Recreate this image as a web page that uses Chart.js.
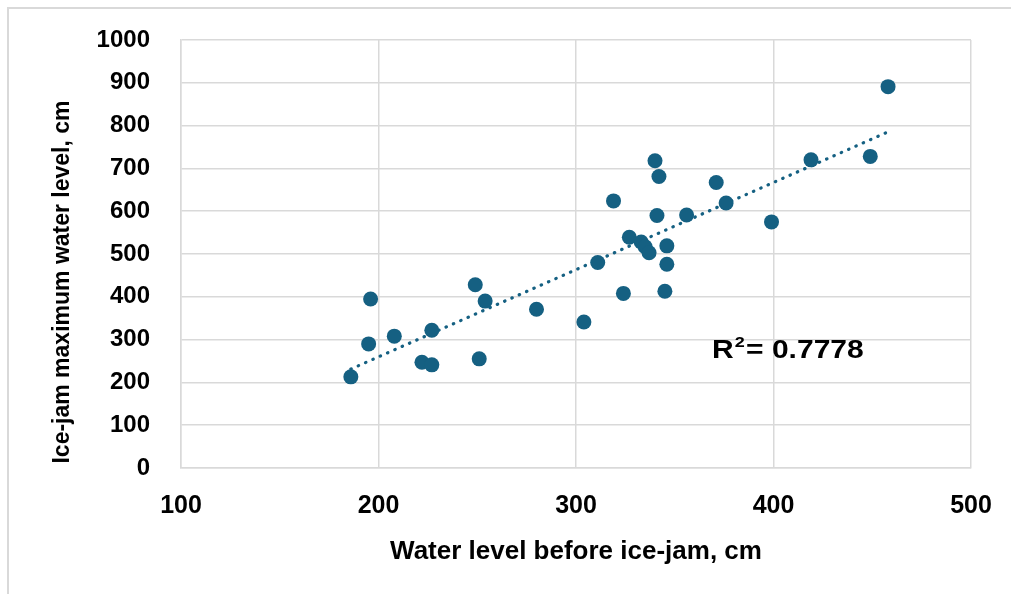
<!DOCTYPE html>
<html>
<head>
<meta charset="utf-8">
<title>Ice-jam water levels</title>
<script src="https://cdn.jsdelivr.net/npm/chart.js@4.4.1/dist/chart.umd.min.js"></script>
<style>
  html, body { margin: 0; padding: 0; background: #fff; }
  #wrap { width: 1011px; height: 594px; }
</style>
</head>
<body>
<div id="wrap"><canvas id="iceChart" width="1011" height="594"></canvas></div>
<script>
// water level before the ice-jam vs. the maximum level it reached, cm
const levelBefore = [186, 196, 195, 208, 222, 227, 227, 249, 254, 251,
                     280, 304, 311, 319, 324, 327, 333, 335, 337, 340,
                     341, 342, 346, 346, 345, 356, 371, 376, 399, 419,
                     449, 458];
const levelMax    = [213, 395, 290, 308, 247, 241, 322, 428, 390, 255,
                     371, 341, 480, 624, 408, 539, 528, 517, 503, 718,
                     590, 681, 519, 476, 413, 591, 667, 619, 575, 720,
                     728, 891];

const xTicks = [100, 200, 300, 400, 500];
const yTicks = [0, 100, 200, 300, 400, 500, 600, 700, 800, 900, 1000];
const r2Text = '0.7778';

const BLUE = '#156082';
const GRID = '#d9d9d9';
const FONT = "'Liberation Sans', Arial, sans-serif";

// least squares line through the points
function linearFit(xs, ys) {
    const n = xs.length;
    let sx = 0, sy = 0, sxx = 0, sxy = 0;
    for (let i = 0; i < n; i++) {
        sx += xs[i]; sy += ys[i];
        sxx += xs[i] * xs[i]; sxy += xs[i] * ys[i];
    }
    const slope = (n * sxy - sx * sy) / (n * sxx - sx * sx);
    return { slope: slope, icpt: (sy - slope * sx) / n };
}

const fit = linearFit(levelBefore, levelMax);
const xMin = Math.min(...levelBefore);
const xMax = Math.max(...levelBefore);
const trend = [
    { x: xMin, y: fit.icpt + fit.slope * xMin },
    { x: xMax, y: fit.icpt + fit.slope * xMax }
];

const points = levelBefore.map((x, i) => ({ x: x, y: levelMax[i] }));

// white background plus the thin frame along the top and left edges
const framePlugin = {
    id: 'frame',
    beforeDraw(chart) {
        const ctx = chart.ctx;
        ctx.save();
        ctx.fillStyle = '#fff';
        ctx.fillRect(0, 0, chart.width, chart.height);
        ctx.strokeStyle = GRID;
        ctx.lineWidth = 2;
        ctx.beginPath();
        ctx.moveTo(8, chart.height);
        ctx.lineTo(8, 8);
        ctx.lineTo(chart.width, 8);
        ctx.stroke();
        ctx.restore();
    }
};

// vertical axis title and the R² note
const labelsPlugin = {
    id: 'labels',
    afterDraw(chart) {
        const ctx = chart.ctx;
        const area = chart.chartArea;
        ctx.save();
        ctx.fillStyle = '#000';

        ctx.translate(area.left - 118, area.top + 242);
        ctx.rotate(-Math.PI / 2);
        ctx.font = 'bold 23px ' + FONT;
        ctx.textAlign = 'center';
        ctx.textBaseline = 'middle';
        ctx.fillText('Ice-jam maximum water level, cm', 0, 0);
        ctx.restore();

        ctx.save();
        ctx.fillStyle = '#000';
        ctx.textAlign = 'left';
        ctx.textBaseline = 'alphabetic';
        ctx.translate(area.left + 531, area.top + 318);
        ctx.scale(1.2, 1);
        ctx.font = 'bold 25px ' + FONT;
        ctx.fillText('R', 0, 0);
        let w = ctx.measureText('R').width;
        ctx.font = 'bold 15px ' + FONT;
        ctx.fillText('2', w + 1, -11);
        w += ctx.measureText('2').width + 2;
        ctx.font = 'bold 25px ' + FONT;
        ctx.fillText('= ' + r2Text, w, 0);
        ctx.restore();
    }
};

const ctx = document.getElementById('iceChart').getContext('2d');
const iceChart = new Chart(ctx, {
    type: 'scatter',
    data: {
        datasets: [
            {
                label: 'Observations',
                data: points,
                backgroundColor: BLUE,
                borderColor: BLUE,
                borderWidth: 0,
                pointRadius: 7.5,
                pointHoverRadius: 7.5,
                order: 1
            },
            {
                label: 'Linear trend',
                type: 'line',
                data: trend,
                borderColor: BLUE,
                borderWidth: 3.2,
                borderDash: [0.5, 7.5],
                borderCapStyle: 'round',
                pointRadius: 0,
                fill: false,
                order: 2
            }
        ]
    },
    options: {
        responsive: false,
        animation: false,
        layout: { autoPadding: false, padding: { left: 8, top: 40, right: 40, bottom: 0 } },
        plugins: {
            legend: { display: false },
            tooltip: { enabled: false }
        },
        scales: {
            x: {
                type: 'linear',
                min: xTicks[0],
                max: xTicks[xTicks.length - 1],
                ticks: {
                    stepSize: xTicks[1] - xTicks[0],
                    padding: 23,
                    color: '#000',
                    font: { family: FONT, size: 25, weight: 'bold' },
                    callback: (v) => String(v)
                },
                grid: { color: GRID, lineWidth: 1.5, drawTicks: false },
                border: { color: GRID, width: 1.5 },
                title: {
                    display: true,
                    text: 'Water level before ice-jam, cm',
                    color: '#000',
                    font: { family: FONT, size: 26, weight: 'bold' },
                    padding: { top: 0, bottom: 27 }
                },
                afterFit(scale) {
                    scale.height = 126;
                    scale.paddingLeft = 0;
                    scale.paddingRight = 0;
                }
            },
            y: {
                type: 'linear',
                min: yTicks[0],
                max: yTicks[yTicks.length - 1],
                ticks: {
                    stepSize: yTicks[1] - yTicks[0],
                    padding: 31,
                    color: '#000',
                    font: { family: FONT, size: 24, weight: 'bold' },
                    callback: (v) => String(v)
                },
                grid: { color: GRID, lineWidth: 1.5, drawTicks: false },
                border: { color: GRID, width: 1.5 },
                afterFit(scale) {
                    scale.width = 173;
                    scale.paddingTop = 0;
                    scale.paddingBottom = 0;
                }
            }
        }
    },
    plugins: [framePlugin, labelsPlugin]
});
</script>
</body>
</html>
